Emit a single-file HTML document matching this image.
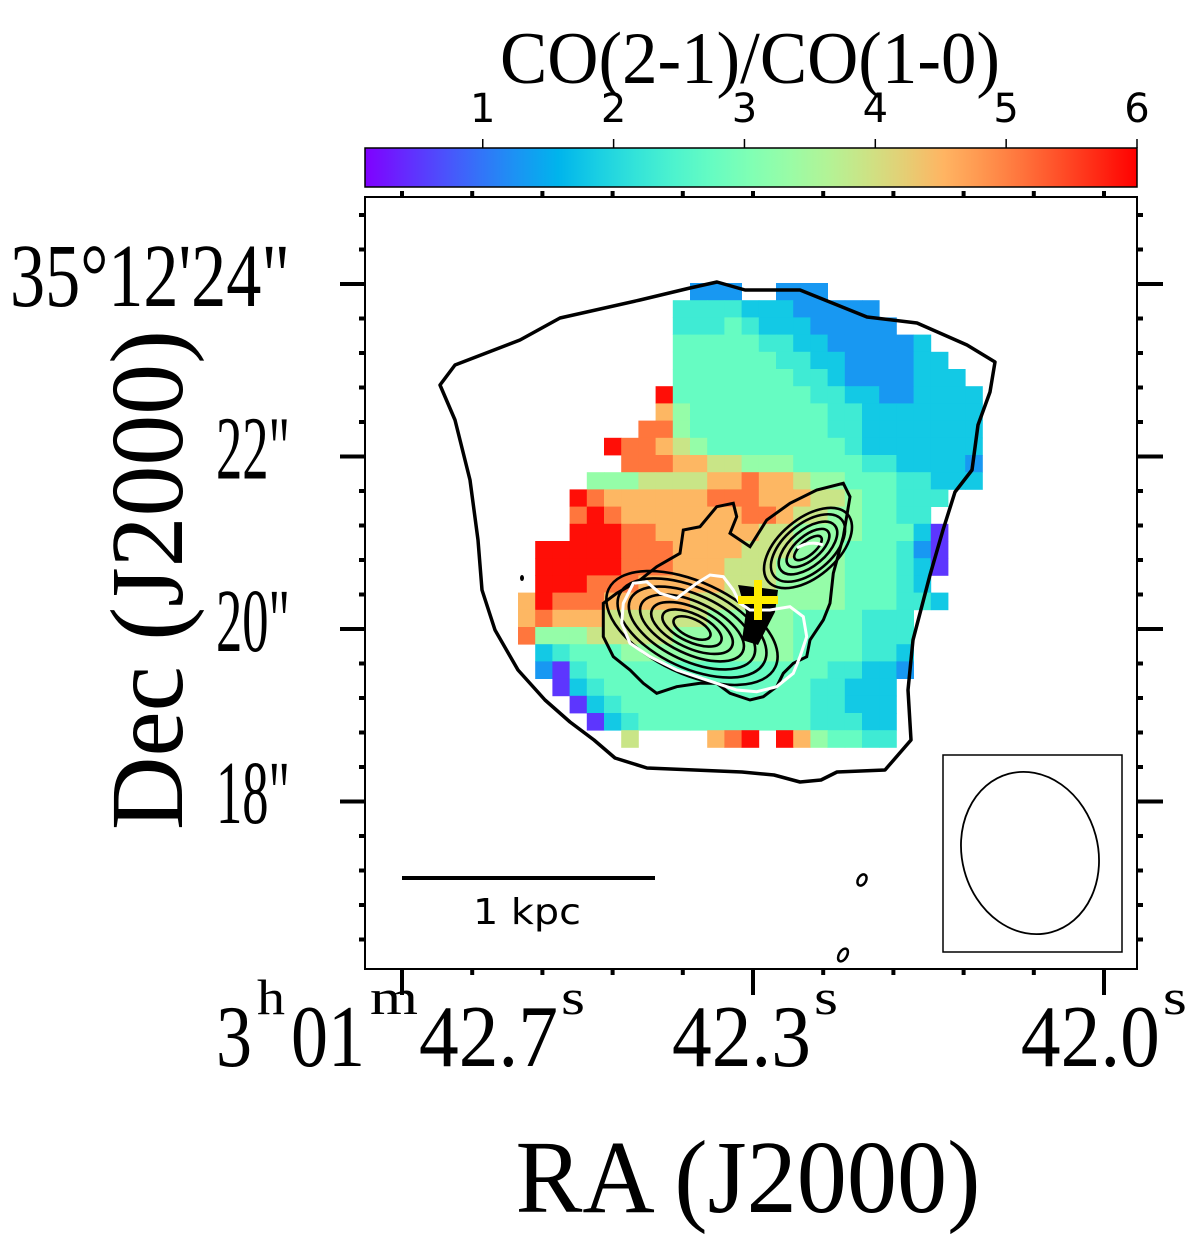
<!DOCTYPE html>
<html><head><meta charset="utf-8"><style>
html,body{margin:0;padding:0;background:#fff;}
svg{display:block;}
</style></head><body>
<svg id="fig" width="1200" height="1235" viewBox="0 0 1200 1235" xmlns="http://www.w3.org/2000/svg">
<rect width="1200" height="1235" fill="#fff"/>
<g id="map"></g>
<g id="cbar"></g>
<g id="axes"></g>
<g id="over"></g>
</svg>
<script>
// ---- data ----
// digit level -> CO(2-1)/CO(1-0) ratio
const levelValues = [0.5, 1.3, 1.8, 2.3, 2.75, 3.3, 3.9, 4.5, 5.1, 5.9];
const mapRows = [
"..........111..111.........",
".........333322211111......",
".........3334322211111.....",
".........444443322111112...",
".........4444443322111122..",
".........44444443321111222.",
"........9444444443322112222",
"........7544444444332222222",
".......88544444444332222222",
".....9887654444444432222222",
"......888776655544443322221",
"....55566667787765544433222",
"...9877777788877766544333..",
"...898777777788766554433...",
"...9998877777766555544420..",
".999998887777666555444310..",
".999998887776665555444320..",
".99988877777666555544432...",
"7988877777666655555444332..",
"78777666666555554444333....",
"85556666655555554444333....",
".2344455555555554444332....",
".1034444444444444433221....",
"..02344444444444433222.....",
"...0234444444444433222.....",
"....023444444444433322.....",
"......6....789.9754433....."
];
const cbTicks = [1, 2, 3, 4, 5, 6];
const decTickLabels = ["35°12'24\"", "22\"", "20\"", "18\""];
const decTickValues = [24, 22, 20, 18];
const raTickValues = [42.7, 42.3, 42.0];
const raTickLabels = ["42.7", "42.3", "42.0"];

// ---- scales ----
const frame = {x0: 365, x1: 1137, y0: 197, y1: 969};
const vmin = 0.1, vmax = 6.0;
const cbX = v => 365 + (v - vmin) / (vmax - vmin) * (1137 - 365);
const decY = d => 284 + (24 - d) * 86.2;
// piecewise-linear RA axis through the labelled major ticks
const raX = r => r >= 42.3 ? 402 + (42.7 - r) * 880 : 754 + (42.3 - r) * 1163;
const cellX = c => 518 + c * 17.2;
const cellY = r => 283 + r * 17.2;
const CW = 17.2;

function rainbow(t) {
  t = Math.max(0, Math.min(1, t));
  const r = Math.min(1, Math.abs(2 * t - 0.5));
  const g = Math.sin(Math.PI * t);
  const b = Math.cos(Math.PI * t / 2);
  return `rgb(${Math.round(r*255)},${Math.round(g*255)},${Math.round(b*255)})`;
}
const colorOf = v => rainbow((v - vmin) / (vmax - vmin));
const NS = "http://www.w3.org/2000/svg";
function mk(tag, attrs, parent) {
  const e = document.createElementNS(NS, tag);
  for (const k in attrs) e.setAttribute(k, attrs[k]);
  parent.appendChild(e);
  return e;
}

// ---- map pixels ----
const map = document.getElementById('map');
mapRows.forEach((row, r) => {
  for (let c = 0; c < row.length; c++) {
    const ch = row[c];
    if (ch < '0' || ch > '9') continue;
    const v = levelValues[+ch];
    const px = mk('rect', {x: cellX(c).toFixed(2), y: cellY(r).toFixed(2), width: CW + 0.4, height: CW + 0.4, fill: colorOf(v)}, map);
    
    
  }
});

// ---- colorbar ----
const cbar = document.getElementById('cbar');
const defs = mk('defs', {}, cbar);
const grad = mk('linearGradient', {id: 'cg', x1: 0, x2: 1, y1: 0, y2: 0}, defs);
for (let i = 0; i <= 20; i++) {
  const t = i / 20;
  mk('stop', {offset: t, 'stop-color': rainbow(t)}, grad);
}
const cbRect = mk('rect', {x: 365, y: 148, width: 772, height: 39, fill: 'url(#cg)', stroke: '#000', 'stroke-width': 1.5}, cbar);


cbTicks.forEach(v => {
  const x = cbX(v);
  const tk = mk('line', {x1: x, x2: x, y1: 139, y2: 148, stroke: '#000', 'stroke-width': 1.5}, cbar);
  
  
  const tl = mk('text', {x: x, y: 122, 'text-anchor': 'middle', 'font-family': 'DejaVu Sans, Liberation Sans, sans-serif', 'font-size': 40}, cbar);
  tl.textContent = String(v);
  
  
});
const cbTitle = mk('text', {x: 750, y: 83, 'text-anchor': 'middle', 'font-family': 'Liberation Serif, serif', 'font-size': 74, textLength: 500, lengthAdjust: 'spacingAndGlyphs'}, cbar);
cbTitle.textContent = 'CO(2-1)/CO(1-0)';



// ---- axes ----
const axes = document.getElementById('axes');
const fr = mk('rect', {x: frame.x0, y: frame.y0, width: frame.x1 - frame.x0, height: frame.y1 - frame.y0, fill: 'none', stroke: '#000', 'stroke-width': 2}, axes);


for (let k = -3; k <= 20; k++) {
  const y = 284 + k * 34.5;
  if (y <= frame.y0 + 2 || y >= frame.y1 - 2) continue;
  const major = k % 5 === 0;
  const lL = mk('line', {x1: frame.x0 - (major ? 25 : 6), x2: frame.x0, y1: y, y2: y, stroke: '#000', 'stroke-width': 4}, axes);
  
  
  const lR = mk('line', {x1: frame.x1, x2: frame.x1 + (major ? 26 : 6), y1: y, y2: y, stroke: '#000', 'stroke-width': 4}, axes);
  
  
}
for (let k = -1; k <= 12; k++) {
  const x = 402 + k * 70.2;
  if (x <= frame.x0 + 2 || x >= frame.x1 - 2) continue;
  const major = k % 5 === 0;
  const b = mk('line', {x1: x, x2: x, y1: frame.y1, y2: frame.y1 + (major ? 26 : 6), stroke: '#000', 'stroke-width': 4}, axes);
  
  
  const t = mk('line', {x1: x, x2: x, y1: frame.y0 - 6, y2: frame.y0, stroke: '#000', 'stroke-width': 4}, axes);
  
  
}
decTickValues.forEach((d, i) => {
  const y = decY(d) + 22;
  const first = i === 0;
  const tl = mk('text', {x: 290, y: y, 'text-anchor': 'end', 'font-family': 'Liberation Serif, serif', 'font-size': 90, textLength: first ? 280 : 74, lengthAdjust: 'spacingAndGlyphs'}, axes);
  tl.textContent = decTickLabels[i];
  
  
});
const raLblStyle = {'font-family': 'Liberation Serif, serif', 'font-size': 88, lengthAdjust: 'spacingAndGlyphs'};
raTickValues.forEach((r, i) => {
  const x = raX(r);
  const start = i === 0 ? 419 : x - 82;
  const g = mk('text', Object.assign({x: start, y: 1066, textLength: 139}, raLblStyle), axes);
  g.textContent = raTickLabels[i];
  
  
  const s = mk('text', {x: start + 142, y: 1014, 'font-family': 'Liberation Serif, serif', 'font-size': 50, textLength: 24, lengthAdjust: 'spacingAndGlyphs'}, axes);
  s.textContent = 's';
  
  
});
const hrs = mk('text', Object.assign({x: 216, y: 1066, textLength: 36}, raLblStyle), axes);
hrs.textContent = '3';


const hsup = mk('text', {x: 257, y: 1014, 'font-family': 'Liberation Serif, serif', 'font-size': 50, textLength: 28, lengthAdjust: 'spacingAndGlyphs'}, axes);
hsup.textContent = 'h';


const mins = mk('text', Object.assign({x: 291, y: 1066, textLength: 74}, raLblStyle), axes);
mins.textContent = '01';


const msup = mk('text', {x: 370, y: 1014, 'font-family': 'Liberation Serif, serif', 'font-size': 50, textLength: 48, lengthAdjust: 'spacingAndGlyphs'}, axes);
msup.textContent = 'm';


const xt = mk('text', {x: 748, y: 1212, 'text-anchor': 'middle', 'font-family': 'Liberation Serif, serif', 'font-size': 104, textLength: 465, lengthAdjust: 'spacingAndGlyphs'}, axes);
xt.textContent = 'RA (J2000)';


const yt = mk('text', {x: 0, y: 0, 'text-anchor': 'middle', 'font-family': 'Liberation Serif, serif', 'font-size': 104, textLength: 500, lengthAdjust: 'spacingAndGlyphs', transform: 'translate(182,580) rotate(-90)'}, axes);
yt.textContent = 'Dec (J2000)';



// ---- overlays ----
const over = document.getElementById('over');
const outer = [[440,385],[455,365],[520,340],[560,318],[640,300],[690,288],[717,282],[745,290],[800,290],[867,317],[917,323],[967,345],[995,362],[990,392],[978,425],[972,470],[955,492],[943,530],[930,575],[913,640],[908,690],[911,740],[885,770],[837,772],[821,780],[800,782],[774,775],[742,772],[647,768],[615,758],[594,740],[570,722],[545,700],[518,670],[495,630],[482,590],[478,540],[470,480],[455,420]];
const op = mk('polygon', {points: outer.map(p => p.join(',')).join(' '), fill: 'none', stroke: '#000', 'stroke-width': 3.5, 'stroke-linejoin': 'round'}, over);


const env = [[40,400],[80,370],[150,330],[200,290],[270,250],[280,180],[330,170],[380,110],[430,100],[440,140],[420,190],[480,230],[530,150],[600,100],[680,60],[760,40],[780,80],[760,200],[730,310],[720,400],[700,450],[660,510],[650,560],[610,580],[580,610],[560,650],[520,680],[480,690],[420,670],[380,640],[330,640],[260,650],[200,670],[160,640],[120,600],[70,560],[40,500]].map(p => [590 + p[0]/3, 470 + p[1]/3]);
const ep = mk('polygon', {points: env.map(p => p.map(v => v.toFixed(1)).join(',')).join(' '), fill: 'none', stroke: '#000', 'stroke-width': 3}, over);


[[92,46],[80,40],[68,33],[56,26],[44,20],[32,14],[20,9]].forEach(a => {
  const e = mk('ellipse', {cx: 692, cy: 628, rx: a[0], ry: a[1], fill: 'none', stroke: '#000', 'stroke-width': 2.6, transform: 'rotate(25 692 628)'}, over);
  
  
});
[[52,29],[44,24],[35,18],[26,12],[17,7]].forEach(a => {
  const e = mk('ellipse', {cx: 808, cy: 548, rx: a[0], ry: a[1], fill: 'none', stroke: '#000', 'stroke-width': 2.6, transform: 'rotate(-40 808 548)'}, over);
  
  
});
const dark = mk('polygon', {points: '738,585 778,590 775,612 758,645 742,640 746,612', fill: '#000'}, over);


const white = [[130,340],[170,335],[210,370],[260,385],[320,340],[360,315],[400,320],[430,360],[450,400],[480,420],[540,420],[600,410],[640,440],[650,500],[630,560],[610,610],[560,650],[500,665],[440,660],[380,640],[320,620],[260,600],[180,560],[120,520],[95,460],[100,400]].map(p => [590 + p[0]/3, 470 + p[1]/3]);
const wp = mk('polygon', {points: white.map(p => p.map(v => v.toFixed(1)).join(',')).join(' '), fill: 'none', stroke: '#fff', 'stroke-width': 3}, over);


const wa = mk('path', {d: 'M797,548 Q810,540 823,545', fill: 'none', stroke: '#fff', 'stroke-width': 3}, over);


const cross = mk('path', {d: 'M738,600 H778 M758,580 V620', stroke: '#ffec00', 'stroke-width': 8, fill: 'none'}, over);


const dot = mk('ellipse', {cx: 522, cy: 578, rx: 2, ry: 3, fill: '#000'}, over);


const s1 = mk('ellipse', {cx: 862, cy: 880, rx: 4, ry: 6, fill: 'none', stroke: '#000', 'stroke-width': 2.5, transform: 'rotate(30 862 880)'}, over);


const s2 = mk('ellipse', {cx: 843, cy: 955, rx: 4, ry: 7, fill: 'none', stroke: '#000', 'stroke-width': 2.5, transform: 'rotate(30 843 955)'}, over);


const sb = mk('line', {x1: 402, x2: 655, y1: 878, y2: 878, stroke: '#000', 'stroke-width': 4}, over);


const sbt = mk('text', {x: 527, y: 924, 'text-anchor': 'middle', 'font-family': 'DejaVu Sans, Liberation Sans, sans-serif', 'font-size': 36, textLength: 108, lengthAdjust: 'spacingAndGlyphs'}, over);
sbt.textContent = '1 kpc';


const bb = mk('rect', {x: 943, y: 755, width: 179, height: 197, fill: '#fff', stroke: '#000', 'stroke-width': 1.5}, over);


const be = mk('ellipse', {cx: 1030, cy: 853, rx: 68, ry: 82, fill: 'none', stroke: '#000', 'stroke-width': 1.8, transform: 'rotate(-15 1030 853)'}, over);


</script>
</body></html>
